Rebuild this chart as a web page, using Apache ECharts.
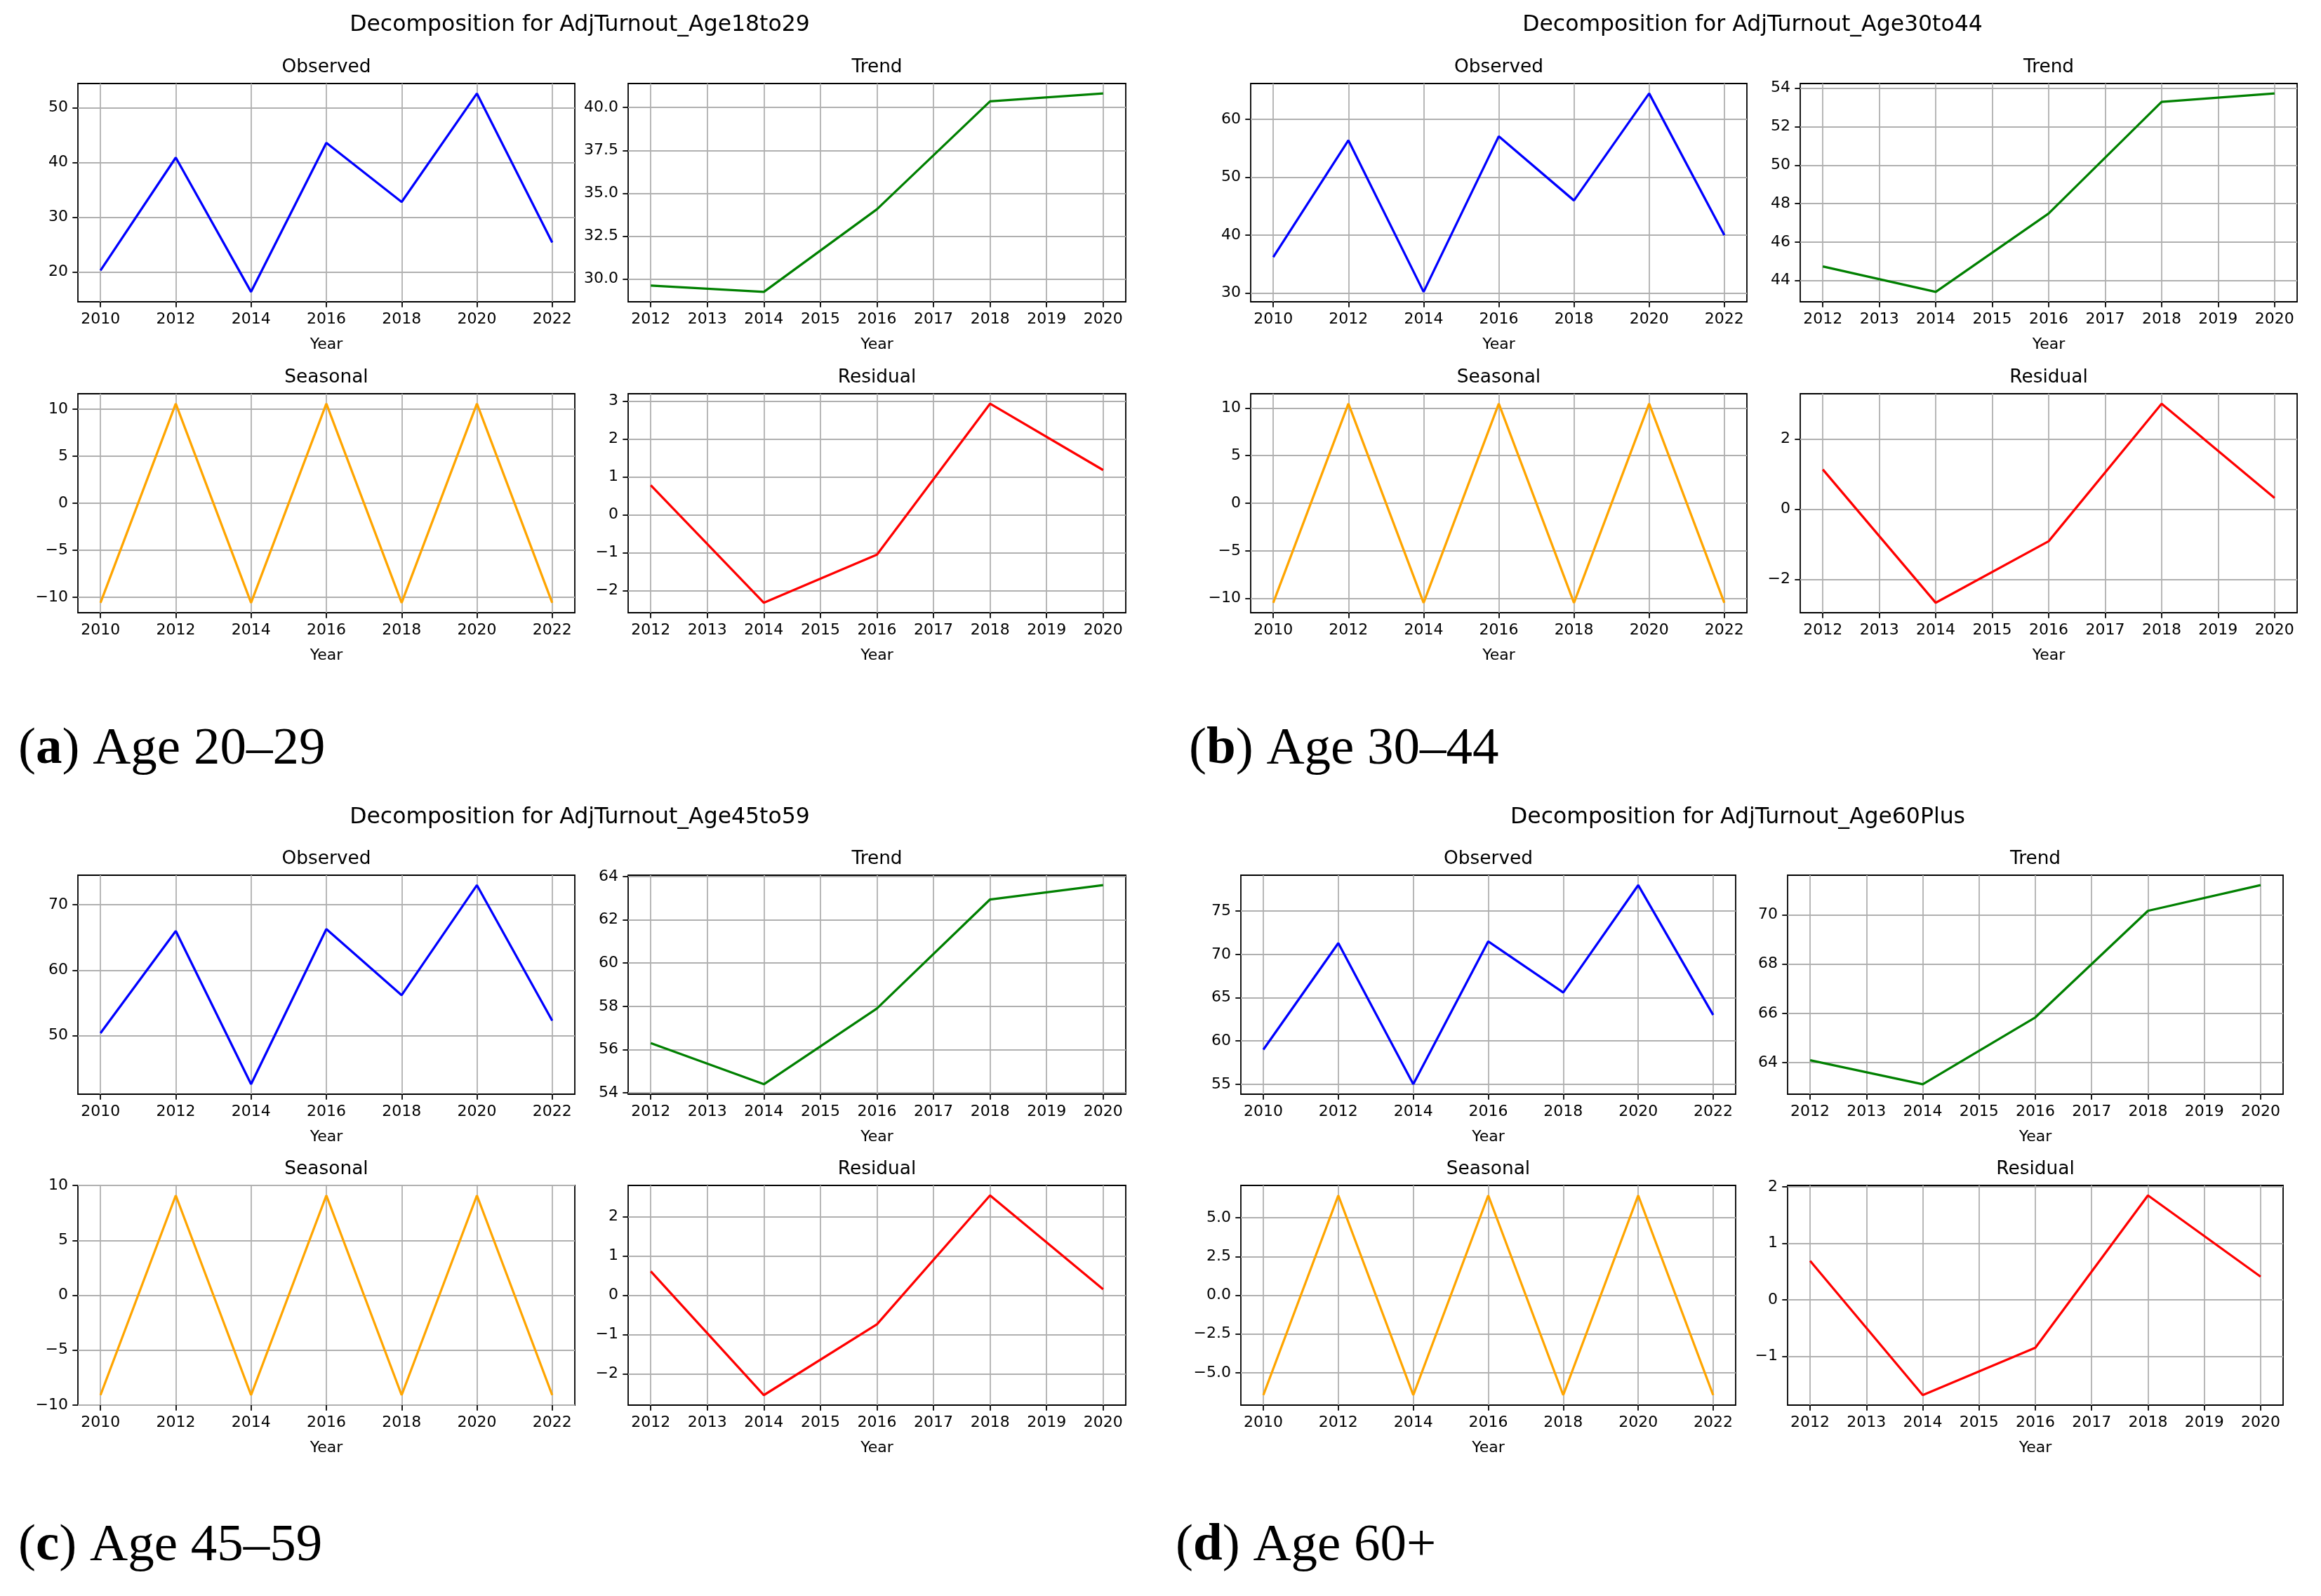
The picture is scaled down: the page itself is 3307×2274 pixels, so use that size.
<!doctype html>
<html>
<head>
<meta charset="utf-8">
<title>Decomposition for AdjTurnout by age</title>
<script src="https://cdn.jsdelivr.net/npm/echarts@6/dist/echarts.min.js"></script>
<style>
    html, body { margin: 0; padding: 0; background: #fff; }
    #chart { width: 3307px; height: 2274px; }
</style>
</head>
<body>
<div id="chart"></div>
<script type="text/javascript">
// ---- data ----
var years = [2010, 2012, 2014, 2016, 2018, 2020, 2022];
var trendYears = [2012, 2014, 2016, 2018, 2020];
var yearTicks = [2010, 2012, 2014, 2016, 2018, 2020, 2022];
var trendYearTicks = [2012, 2013, 2014, 2015, 2016, 2017, 2018, 2019, 2020];

var observed18to29 = [20.3, 40.9, 16.4, 43.6, 32.8, 52.6, 25.4];
var trend18to29 = [29.62, 29.25, 34.07, 40.36, 40.82];
var seasonal18to29 = [-10.6, 10.6, -10.6, 10.6, -10.6, 10.6, -10.6];
var residual18to29 = [0.78, -2.32, -1.05, 2.93, 1.18];

var observed30to44 = [36.2, 56.4, 30.2, 57.1, 46.0, 64.5, 40.0];
var trend30to44 = [44.73, 43.41, 47.49, 53.29, 53.73];
var seasonal30to44 = [-10.45, 10.45, -10.45, 10.45, -10.45, 10.45, -10.45];
var residual30to44 = [1.13, -2.66, -0.91, 3.0, 0.32];

var observed45to59 = [50.4, 66.0, 42.6, 66.3, 56.2, 73.0, 52.3];
var trend45to59 = [56.3, 54.4, 57.9, 62.94, 63.6];
var seasonal45to59 = [-9.1, 9.1, -9.1, 9.1, -9.1, 9.1, -9.1];
var residual45to59 = [0.61, -2.54, -0.74, 2.54, 0.15];

var observed60plus = [59.0, 71.3, 55.0, 71.5, 65.6, 78.0, 63.0];
var trend60plus = [64.1, 63.13, 65.84, 70.16, 71.2];
var seasonal60plus = [-6.45, 6.45, -6.45, 6.45, -6.45, 6.45, -6.45];
var residual60plus = [0.69, -1.69, -0.85, 1.85, 0.41];

// y tick labels per panel
var obsTicks18 = [20, 30, 40, 50], trendTicks18 = [30, 32.5, 35, 37.5, 40];
var seasTicks18 = [-10, -5, 0, 5, 10], residTicks18 = [-2, -1, 0, 1, 2, 3];
var obsTicks30 = [30, 40, 50, 60], trendTicks30 = [44, 46, 48, 50, 52, 54];
var seasTicks30 = [-10, -5, 0, 5, 10], residTicks30 = [-2, 0, 2];
var obsTicks45 = [50, 60, 70], trendTicks45 = [54, 56, 58, 60, 62, 64];
var seasTicks45 = [-10, -5, 0, 5, 10], residTicks45 = [-2, -1, 0, 1, 2];
var obsTicks60 = [55, 60, 65, 70, 75], trendTicks60 = [64, 66, 68, 70];
var seasTicks60 = [-5, -2.5, 0, 2.5, 5], residTicks60 = [-1, 0, 1, 2];

var suptitles = ['Decomposition for AdjTurnout_Age18to29', 'Decomposition for AdjTurnout_Age30to44',
                 'Decomposition for AdjTurnout_Age45to59', 'Decomposition for AdjTurnout_Age60Plus'];
var captionLetters = ['a', 'b', 'c', 'd'];
var captionTexts = ['Age 20\u201329', 'Age 30\u201344', 'Age 45\u201359', 'Age 60+'];

// ---- layout ----
var FONT = '"DejaVu Sans", sans-serif';
var quads = [
    {obs: observed18to29, trend: trend18to29, seas: seasonal18to29, resid: residual18to29,
     ticks: [obsTicks18, trendTicks18, seasTicks18, residTicks18],
     cols: [[111, 819], [895, 1604]], rows: [[119, 430], [561, 873]], supX: 826, supY: 36, capX: 26, capY: 1068},
    {obs: observed30to44, trend: trend30to44, seas: seasonal30to44, resid: residual30to44,
     ticks: [obsTicks30, trendTicks30, seasTicks30, residTicks30],
     cols: [[1782, 2489], [2565, 3273]], rows: [[119, 430], [561, 873]], supX: 2497, supY: 36, capX: 1694, capY: 1068},
    {obs: observed45to59, trend: trend45to59, seas: seasonal45to59, resid: residual45to59,
     ticks: [obsTicks45, trendTicks45, seasTicks45, residTicks45],
     cols: [[111, 819], [895, 1604]], rows: [[1247, 1559], [1689, 2002]], supX: 826, supY: 1165, capX: 26, capY: 2203},
    {obs: observed60plus, trend: trend60plus, seas: seasonal60plus, resid: residual60plus,
     ticks: [obsTicks60, trendTicks60, seasTicks60, residTicks60],
     cols: [[1768, 2473], [2547, 3253]], rows: [[1247, 1559], [1689, 2002]], supX: 2476, supY: 1165, capX: 1675, capY: 2203}
];

var grids = [], xAxes = [], yAxes = [], series = [], graphics = [];

function padRange(vals) {
    var lo = Math.min.apply(null, vals), hi = Math.max.apply(null, vals);
    var m = (hi - lo) * 0.05;
    return [lo - m, hi + m];
}
function fmtTick(v, dec) {
    return v.toFixed(dec).replace('-', '\u2212');
}

function addPanel(col, row, title, xs, ys, xTicks, yTicks, color) {
    var i = grids.length;
    grids.push({
        left: col[0], top: row[0], width: col[1] - col[0], height: row[1] - row[0],
        show: true, borderColor: '#000', borderWidth: 1.8, backgroundColor: '#fff'
    });
    var xr = padRange(xs), yr = padRange(ys);
    var dec = yTicks.some(function (t) { return t % 1 !== 0; }) ? 1 : 0;
    xAxes.push({
        type: 'value', gridIndex: i, min: xr[0], max: xr[1], position: 'bottom',
        name: 'Year', nameLocation: 'middle', nameGap: 50,
        nameTextStyle: {fontSize: 22, color: '#000', fontFamily: FONT},
        axisLine: {show: false, onZero: false},
        axisTick: {show: true, inside: false, length: 7.7, customValues: xTicks, lineStyle: {color: '#000', width: 1.8}},
        axisLabel: {customValues: xTicks, margin: 14, fontSize: 22, color: '#000', fontFamily: FONT,
                    formatter: function (v) { return String(Math.round(v)); }},
        splitLine: {show: true, lineStyle: {color: '#b0b0b0', width: 1.8}}
    });
    yAxes.push({
        type: 'value', gridIndex: i, min: yr[0], max: yr[1], position: 'left',
        axisLine: {show: false, onZero: false},
        axisTick: {show: true, inside: false, length: 7.7, customValues: yTicks, lineStyle: {color: '#000', width: 1.8}},
        axisLabel: {customValues: yTicks, margin: 14, fontSize: 22, color: '#000', fontFamily: FONT,
                    formatter: function (v) { return fmtTick(v, dec); }},
        splitLine: {show: true, lineStyle: {color: '#b0b0b0', width: 1.8}}
    });
    series.push({
        type: 'line', xAxisIndex: i, yAxisIndex: i,
        data: xs.map(function (x, k) { return [x, ys[k]]; }),
        showSymbol: false, symbol: 'none', z: 3,
        lineStyle: {color: color, width: 3.3}, itemStyle: {color: color}
    });
    graphics.push({
        type: 'text', x: (col[0] + col[1]) / 2, y: row[0] - 23,
        style: {text: title, fontSize: 26.4, fontFamily: FONT, fill: '#000', align: 'center', verticalAlign: 'middle'}
    });
}

quads.forEach(function (q, k) {
    addPanel(q.cols[0], q.rows[0], 'Observed', years, q.obs, yearTicks, q.ticks[0], '#0000ff');
    addPanel(q.cols[1], q.rows[0], 'Trend', trendYears, q.trend, trendYearTicks, q.ticks[1], '#008000');
    addPanel(q.cols[0], q.rows[1], 'Seasonal', years, q.seas, yearTicks, q.ticks[2], '#ffa500');
    addPanel(q.cols[1], q.rows[1], 'Residual', trendYears, q.resid, trendYearTicks, q.ticks[3], '#ff0000');
    graphics.push({
        type: 'text', x: q.supX, y: q.supY,
        style: {text: suptitles[k], fontSize: 31.5, fontFamily: FONT, fill: '#000', align: 'center', verticalAlign: 'middle'}
    });
    graphics.push({
        type: 'text', x: q.capX, y: q.capY,
        style: {
            text: '({b|' + captionLetters[k] + '}) ' + captionTexts[k],
            fontSize: 75, fontFamily: '"Liberation Serif", serif', fill: '#000',
            align: 'left', verticalAlign: 'middle',
            rich: {b: {fontSize: 75, fontFamily: '"Liberation Serif", serif', fontWeight: 'bold', fill: '#000'}}
        }
    });
});

var chart = echarts.init(document.getElementById('chart'));
chart.setOption({
    animation: false,
    backgroundColor: '#fff',
    grid: grids,
    xAxis: xAxes,
    yAxis: yAxes,
    series: series,
    graphic: graphics
});
</script>
</body>
</html>
